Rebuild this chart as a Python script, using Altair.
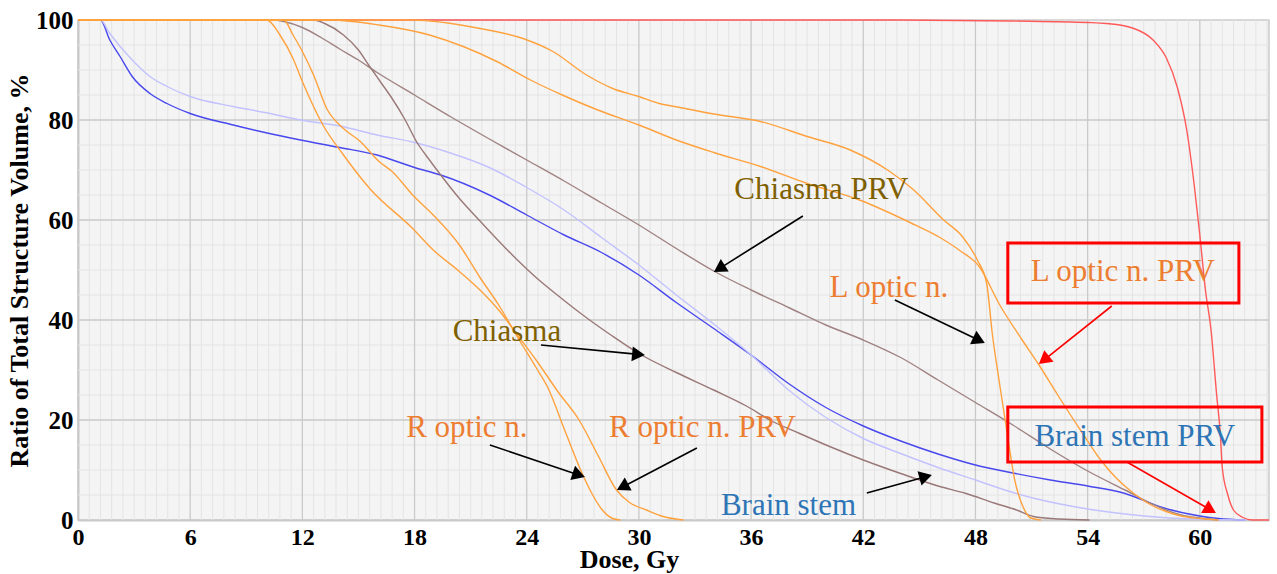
import math
import altair as alt
import pandas as pd

# ---------------- data (dose in Gy, volume in %) ----------------
ptv_dose = [0, 44, 50, 54, 55, 56.4, 57.5, 58.2, 58.8, 59.3, 59.7, 60.0, 60.3, 60.6, 60.9, 61.1, 61.2, 61.5, 61.8, 62.3, 62.8, 63.7]
ptv_vol = [100, 100, 99.8, 99.5, 99.3, 98.4, 96, 92.5, 86.5, 78, 67, 57, 46, 38, 25, 17, 10.5, 5, 2, 0.5, 0, 0]

bs_dose = [0, 1.2, 1.7, 2.25, 2.9, 3.85, 4.76, 6, 8.3, 10, 11.9, 14, 16, 18, 19.4, 22, 24, 26, 28, 30, 32, 34, 36, 38, 40, 42, 44, 46, 48, 50, 52, 54, 56, 58, 60, 61, 62.4]
bs_vol = [100, 100, 96, 92.7, 88.7, 85.3, 83.3, 81.3, 79, 77.5, 76, 74.5, 73, 70.5, 69, 65, 61, 57, 53.5, 49, 43.5, 38.3, 33, 27.3, 22.5, 18.8, 15.8, 13.2, 11, 9.4, 8, 6.8, 5.3, 2.5, 0.8, 0.3, 0]

bsprv_dose = [0, 1.2, 1.7, 2.9, 3.85, 4.76, 6, 8.3, 10, 11.9, 14, 16, 18, 20, 22, 24, 26, 28, 30, 32, 34, 36, 38, 40, 42, 44, 46, 48, 50, 52, 54, 56, 58, 60, 62.5]
bsprv_vol = [100, 100, 97.3, 92, 88.7, 86.7, 84.7, 82.7, 81.5, 80, 78.8, 77, 75.5, 73.3, 70.5, 66.5, 62, 56.5, 51, 45, 39.2, 33, 26, 20.5, 16.3, 13.3, 10.5, 8, 5.5, 3.6, 2.2, 1.2, 0.5, 0.15, 0]

chprv_dose = [0, 10.4, 11, 12, 13, 14, 15, 16, 18, 20, 22, 24, 26, 28, 30, 32, 34, 36, 38, 40, 42, 44, 46, 48, 50, 52, 54, 56, 58, 59, 60, 61]
chprv_vol = [100, 100, 99.7, 98.5, 96.5, 94.2, 92, 89.5, 85, 80.5, 76.2, 72, 67.8, 63.4, 59, 54.3, 49.8, 46, 42.5, 39, 36, 32.5, 28, 23.5, 19, 14.2, 9.8, 6, 2.3, 1, 0.4, 0]

ch_dose = [0, 12.6, 13.2, 14.2, 15, 15.6, 16.2, 16.8, 17.5, 18.1, 18.8, 19.4, 20.4, 21.5, 22.5, 23.5, 24.5, 25.8, 27, 28.5, 30, 32, 34, 35.8, 37, 38.6, 40.2, 42, 44, 46, 47.5, 49, 50.2, 51.1, 52.5, 54.1]
ch_vol = [100, 100, 99.3, 97, 94, 90.7, 87.5, 84.3, 80, 75.7, 72, 69, 64.3, 59.8, 55.8, 52, 48.5, 44.5, 41, 37, 33.3, 29.5, 26, 22.7, 20, 17.3, 14.7, 12, 9.3, 6.8, 5.3, 3.4, 2, 0.7, 0.2, 0]

ron_dose = [0, 11, 11.5, 12, 12.6, 13.3, 14.2, 15.1, 16.1, 16.8, 17.9, 19, 20.4, 21.5, 22.5, 23.6, 24.5, 25.1, 26.1, 27, 27.5, 28, 28.6, 29]
ron_vol = [100, 100, 97, 93.7, 89, 82.3, 78.3, 75.7, 71.7, 69.7, 65, 61, 55, 48.5, 43, 36, 30.5, 26.7, 17.3, 9, 5.2, 2.2, 0.3, 0]

ronprv_dose = [0, 10.1, 10.8, 11.5, 12, 13.1, 14.2, 15.6, 17.9, 19, 20.4, 21.5, 22.5, 23.6, 24.5, 25.7, 26.8, 27.8, 28.8, 29.5, 30.4, 31.3, 32.4]
ronprv_vol = [100, 100, 97, 92.3, 87.7, 79, 73, 66.3, 58.3, 54, 49.7, 46, 42, 36.5, 32, 25.5, 20, 13, 6, 3.5, 2, 0.7, 0]

lon_dose = [0, 17.9, 21.5, 23.8, 25.4, 27.2, 28.6, 30, 31.1, 32.2, 34, 36.5, 39, 41.3, 43.3, 44.7, 46.3, 47.3, 48.1, 48.6, 48.9, 49.3, 49.7, 50.1, 50.4, 50.7, 50.9, 51.5]
lon_vol = [100, 100, 98.3, 96.3, 93.7, 89, 86.3, 84.7, 83.3, 82.5, 81.2, 79.7, 76.7, 74, 70, 66, 60, 56.7, 52, 47.3, 37.3, 27, 17.3, 8, 4, 1.5, 0.5, 0]

lonprv_dose = [0, 13.5, 16.1, 18.8, 20.6, 22.4, 24.2, 25.9, 27.8, 30, 32, 34, 36.5, 39, 41.8, 44.5, 46.1, 47.2, 48.2, 49.3, 50.5, 51.4, 52.4, 53.7, 54.7, 55.5, 56.4, 57.5, 58.2, 59, 60, 61]
lonprv_vol = [100, 100, 99, 97, 94.7, 91.7, 88, 85, 82, 79, 76, 73.5, 70.7, 67.3, 64, 59.5, 56.5, 53.8, 50.7, 43, 36, 31, 25, 17.5, 12, 8.5, 5.5, 2.8, 1.7, 0.8, 0.3, 0]

series_names = ["PTV", "Brain stem", "Brain stem PRV", "Chiasma PRV", "Chiasma",
                "R optic n.", "R optic n. PRV", "L optic n.", "L optic n. PRV"]
series_doses = [ptv_dose, bs_dose, bsprv_dose, chprv_dose, ch_dose, ron_dose, ronprv_dose, lon_dose, lonprv_dose]
series_vols = [ptv_vol, bs_vol, bsprv_vol, chprv_vol, ch_vol, ron_vol, ronprv_vol, lon_vol, lonprv_vol]
series_colors = ["#ff5a5a", "#4848ee", "#c2c2ff", "#a08282", "#9a7878",
                 "#ffa23e", "#ffa23e", "#ffa23e", "#ffa23e"]

x_ticks = [0, 6, 12, 18, 24, 30, 36, 42, 48, 54, 60]
y_ticks = [0, 20, 40, 60, 80, 100]

# annotations (data coordinates)
label_texts = ["Chiasma PRV", "L optic n.", "L optic n. PRV", "Chiasma", "R optic n.",
               "R optic n. PRV", "Brain stem", "Brain stem PRV"]
label_x = [39.76, 43.37, 55.88, 22.94, 20.8, 33.4, 38.0, 56.52]
label_y = [66.0, 46.4, 49.6, 37.6, 18.4, 18.4, 2.8, 16.6]
label_colors = ["#7f6000", "#ed7d31", "#ed7d31", "#7f6000", "#ed7d31", "#ed7d31", "#2e75b6", "#2e75b6"]

arrow_x1 = [38.77, 43.69, 24.76, 22.03, 33.10, 42.19, 55.29, 56.10]
arrow_y1 = [60.8, 44.0, 35.0, 15.0, 14.4, 5.4, 42.8, 11.6]
arrow_x2 = [34.01, 48.50, 30.32, 27.11, 28.82, 45.67, 51.39, 60.86]
arrow_y2 = [49.6, 35.4, 33.0, 8.6, 6.0, 9.0, 31.2, 1.4]
arrow_colors = ["black", "black", "black", "black", "black", "black", "red", "red"]

box_x1 = [49.73, 49.73]
box_x2 = [62.09, 63.32]
box_y1 = [55.4, 22.6]
box_y2 = [43.4, 11.6]

# ---------------- layout ----------------
W, H = 1191, 500
XMAX = 63.7
PXX = W / XMAX
PXY = H / 100.0
FONT = "Liberation Serif"

xs = alt.Scale(domain=[0, XMAX], nice=False, zero=False)
ys = alt.Scale(domain=[0, 100], nice=False)

XAXIS = alt.Axis(values=x_ticks, title="Dose, Gy", grid=False, ticks=False,
                 domainColor="#c8c8c8", domainWidth=2, labelFlush=False,
                 labelFont=FONT, labelFontSize=24, labelFontWeight="bold", labelColor="black",
                 labelPadding=5, labelOverlap=False,
                 titleFont=FONT, titleFontSize=26, titleFontWeight="bold", titleColor="black",
                 titleX=551, titleY=47, titleAlign="center", titleBaseline="alphabetic")
YAXIS = alt.Axis(values=y_ticks, title="Ratio of Total Structure Volume, %", grid=False,
                 ticks=False, domainColor="#c8c8c8", domainWidth=2,
                 labelFont=FONT, labelFontSize=25, labelFontWeight="bold", labelColor="black",
                 labelPadding=5, labelOverlap=False,
                 titleFont=FONT, titleFontSize=26, titleFontWeight="bold", titleColor="black",
                 titlePadding=3)


def X(field):
    return alt.X(field, scale=xs, axis=XAXIS)


def Y(field):
    return alt.Y(field, scale=ys, axis=YAXIS)


rows = []
for n, d, v in zip(series_names, series_doses, series_vols):
    for i, (a, b) in enumerate(zip(d, v)):
        rows.append({"series": n, "dose": a, "vol": b, "i": i})
df = pd.DataFrame(rows)

minor_x = [round(0.6 * i, 2) for i in range(1, int(XMAX / 0.6) + 1) if i % 10]
minor_y = [5 * i for i in range(1, 20) if i % 4]
major_x = x_ticks[1:]
major_y = y_ticks[1:-1]

gx_minor = alt.Chart(pd.DataFrame({"dose": minor_x})).mark_rule(color="#e4e4e4", strokeWidth=1).encode(
    x=X("dose:Q"))
gy_minor = alt.Chart(pd.DataFrame({"vol": minor_y})).mark_rule(color="#e4e4e4", strokeWidth=1).encode(
    y=Y("vol:Q"))
gx_major = alt.Chart(pd.DataFrame({"dose": major_x})).mark_rule(color="#cacaca", strokeWidth=1.3).encode(
    x=X("dose:Q"))
gy_major = alt.Chart(pd.DataFrame({"vol": major_y})).mark_rule(color="#cacaca", strokeWidth=1.3).encode(
    y=Y("vol:Q"))

lines = alt.Chart(df).mark_line(strokeWidth=1.4, interpolate="monotone").encode(
    x=X("dose:Q"),
    y=Y("vol:Q"),
    color=alt.Color("series:N", scale=alt.Scale(domain=series_names, range=series_colors), legend=None),
    detail="series:N",
    order="i:Q",
)

boxes = alt.Chart(pd.DataFrame({"dose": box_x1, "x2": box_x2, "vol": box_y1, "y2": box_y2})).mark_rect(
    fillOpacity=0, stroke="#ff0000", strokeWidth=3).encode(
    x=X("dose:Q"), x2="x2:Q",
    y=Y("vol:Q"), y2="y2:Q")

# arrows: shaft ends at the head's centre, head rotated along the shaft (pixel space)
HEAD = 220
h = math.sqrt(3) * (math.sqrt(HEAD) / 2) / 2
arows = []
for x1, y1, x2, y2, c in zip(arrow_x1, arrow_y1, arrow_x2, arrow_y2, arrow_colors):
    dxp = (x2 - x1) * PXX
    dyp = -(y2 - y1) * PXY
    L = math.hypot(dxp, dyp)
    ux, uy = dxp / L, dyp / L
    cx = x2 - ux * h / PXX
    cy = y2 + uy * h / PXY
    ang = math.degrees(math.atan2(ux, -uy)) % 360
    arows.append({"dose": x1, "vol": y1, "cx": cx, "cy": cy, "ang": ang, "c": c})
adf = pd.DataFrame(arows)

shafts = alt.Chart(adf).mark_rule(strokeWidth=1.6).encode(
    x=X("dose:Q"), x2="cx:Q",
    y=Y("vol:Q"), y2="cy:Q",
    color=alt.Color("c:N", scale=None))
heads = alt.Chart(adf).mark_point(shape="triangle-up", filled=True, size=HEAD, opacity=1).encode(
    x=X("cx:Q"),
    y=Y("cy:Q"),
    angle=alt.Angle("ang:Q", scale=None),
    color=alt.Color("c:N", scale=None))

texts = alt.Chart(pd.DataFrame({"t": label_texts, "dose": label_x, "vol": label_y, "c": label_colors})).mark_text(
    font=FONT, fontSize=31, align="center", baseline="middle").encode(
    x=X("dose:Q"),
    y=Y("vol:Q"),
    text="t:N",
    color=alt.Color("c:N", scale=None))

chart = alt.layer(gx_minor, gy_minor, gx_major, gy_major, lines, boxes, shafts, heads, texts).properties(
    width=W, height=H,
    padding={"left": 78, "top": 20, "right": 8, "bottom": 54},
    autosize=alt.AutoSizeParams(type="none"),
    background="white",
).configure_view(fill="#f4f4f4", stroke="#cccccc", strokeWidth=1.5)

chart.save("out.html", embed_options={"renderer": "svg", "actions": False})
